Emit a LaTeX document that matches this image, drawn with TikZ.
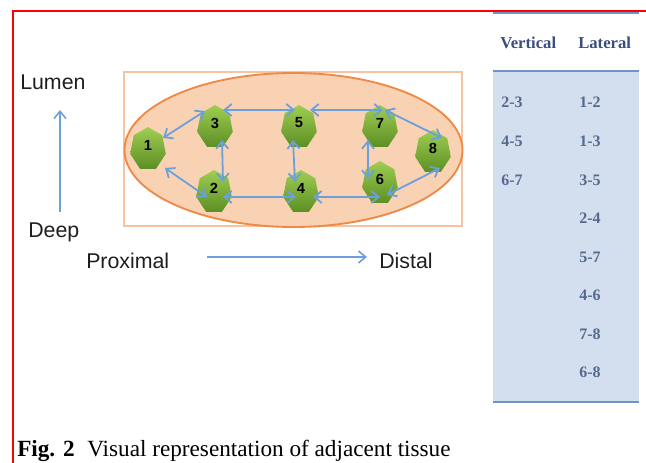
\documentclass[tikz,border=0pt]{standalone}
\usepackage{fontspec}
\setmainfont{Liberation Serif}
\newfontfamily\arialf{Liberation Sans}
\usetikzlibrary{arrows.meta,calc}
\definecolor{framered}{HTML}{FF0000}
\definecolor{arrowblue}{HTML}{6CA0DA}
\definecolor{peachfill}{HTML}{F9D2B3}
\definecolor{peachline}{HTML}{F6C4A2}
\definecolor{orangeline}{HTML}{EE8A45}
\definecolor{greentop}{HTML}{9FCE52}
\definecolor{greenbot}{HTML}{5C8F24}
\definecolor{tablefill}{HTML}{D3DFEE}
\definecolor{tablerule}{HTML}{6F95C8}
\definecolor{headblue}{HTML}{3A4D7C}
\definecolor{cellblue}{HTML}{56698F}
\definecolor{textgray}{HTML}{1E1E1E}
\begin{document}
\begin{tikzpicture}[x=0.75pt,y=0.75pt,
  link/.style={draw=arrowblue, line width=1.35pt,
    {Straight Barb[length=5.5pt,width=9pt]}-{Straight Barb[length=5.5pt,width=9pt]}},
  axisarrow/.style={draw=arrowblue, line width=1.2pt,
    -{Straight Barb[length=5.5pt,width=9pt]}},
  numlbl/.style={inner sep=0pt, font=\arialf\bfseries\fontsize{11}{11}\selectfont, text=black},
  axislbl/.style={anchor=west, inner sep=0pt, font=\arialf\fontsize{16}{16}\selectfont, text=textgray},
  tablehead/.style={anchor=west, inner sep=0pt, font=\bfseries\fontsize{12.5}{12.5}\selectfont, text=headblue},
  tablecell/.style={anchor=west, inner sep=0pt, font=\bfseries\fontsize{12}{12}\selectfont, text=cellblue},
  hept/.style={top color=greentop, bottom color=greenbot, draw=none},
]
\useasboundingbox (0,0) rectangle (646,463);

% red frame
\draw[framered, line width=1.6pt] (13,0) -- (13,452) -- (646,452);

% table
\fill[tablefill] (493,61) rectangle (639,392);
\draw[tablerule, line width=1.5pt] (493,450) -- (639,450);
\draw[tablerule, line width=1.5pt] (493,392) -- (639,392);
\draw[tablerule, line width=1.5pt] (493,61) -- (639,61);
\node[tablehead] (hv) at (500,420) {Vertical};
\node[tablehead] (hl) at (578,420) {Lateral};
\node[tablecell] (v1) at (501,361) {2-3};
\node[tablecell] (v2) at (501,322) {4-5};
\node[tablecell] (v3) at (501,283) {6-7};
\node[tablecell] (l1) at (579,361) {1-2};
\node[tablecell] (l2) at (579,322) {1-3};
\node[tablecell] (l3) at (579,283) {3-5};
\node[tablecell] (l4) at (579,245) {2-4};
\node[tablecell] (l5) at (579,206) {5-7};
\node[tablecell] (l6) at (579,168) {4-6};
\node[tablecell] (l7) at (579,129) {7-8};
\node[tablecell] (l8) at (579,91) {6-8};

% tissue box and ellipse
\draw[peachline, line width=1.2pt] (124,237) rectangle (462,391);
\draw[fill=peachfill, draw=orangeline, line width=1.4pt] (293.5,313) ellipse [x radius=169, y radius=77];

% cells
\foreach \nm/\px/\py in {n1/148/314, n3/215/336, n2/214/271, n5/299/336, n4/301/271, n7/380/336, n6/380/280, n8/433/311}{
  \coordinate (\nm) at (\px,\py);
  \begin{scope}[shift={(\px,\py)}, xscale=0.83]
    \shade[hept] (90:22) \foreach \k in {1,...,6}{ -- ({90+\k*360/7}:22) } -- cycle;
  \end{scope}
}
\foreach \nm/\t in {n1/1, n2/2, n3/3, n4/4, n5/5, n6/6, n7/7, n8/8}{
  \node[numlbl] (t\t) at ($(\nm)+(0,4)$) {\t};
}

% adjacency arrows
\draw[link] ($(n1)+(15,11)$) -- ($(n3)+(-10,16)$);
\draw[link] ($(n3)+(8,17)$) -- ($(n5)+(-4,17)$);
\draw[link] ($(n5)+(11,17)$) -- ($(n7)+(3,17)$);
\draw[link] ($(n7)+(5,17)$) -- ($(n8)+(9,14)$);
\draw[link] ($(n1)+(17,-19)$) -- ($(n2)+(-7,-5)$);
\draw[link] ($(n2)+(9,-5)$) -- ($(n4)+(-5,-5)$);
\draw[link] ($(n4)+(12,-5)$) -- ($(n6)+(0,-14)$);
\draw[link] ($(n6)+(7,-12)$) -- ($(n8)+(7,-16)$);
\draw[link] ($(n3)+(7,-13)$) -- ($(n2)+(9,10)$);
\draw[link] ($(n5)+(-6,-13)$) -- ($(n4)+(-6,10)$);
\draw[link] ($(n7)+(-12,-13)$) -- ($(n6)+(-12,4)$);

% orientation axes
\node[axislbl] (lumen) at (20,381) {Lumen};
\node[axislbl] (deep) at (28,231) {Deep};
\node[axislbl] (prox) at (86,202) {Proximal};
\node[axislbl] (dist) at (379,202) {Distal};
\coordinate (vbot) at (60,251);
\coordinate (vtop) at (60,353);
\coordinate (hleft) at (207,206);
\coordinate (hright) at (367,206);
\draw[axisarrow] (vbot) -- (vtop);
\draw[axisarrow] (hleft) -- (hright);

% caption
\node[anchor=base west, inner sep=0pt, font=\fontsize{17.4}{17.4}\selectfont] (cap) at (17,6)
  {\textbf{Fig. 2}\hspace{0.55em}Visual representation of adjacent tissue};
\end{tikzpicture}
\end{document}
